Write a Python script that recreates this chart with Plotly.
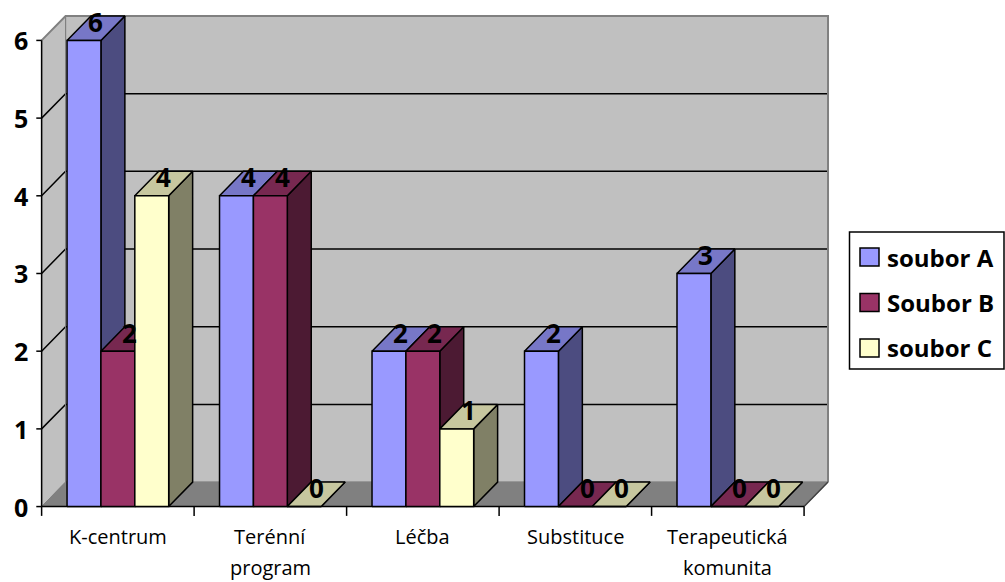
import plotly.graph_objects as go

# --- data -------------------------------------------------------------
categories = ["K-centrum", "Terénní program", "Léčba", "Substituce", "Terapeutická komunita"]
cat_line1 = ["K-centrum", "Terénní", "Léčba", "Substituce", "Terapeutická"]
cat_line2 = ["", "program", "", "", "komunita"]
series_names = ["soubor A", "Soubor B", "soubor C"]
soubor_a = [6, 4, 2, 2, 3]
soubor_b = [2, 4, 2, 0, 0]
soubor_c = [4, 0, 1, 0, 0]
y_ticks = [0, 1, 2, 3, 4, 5, 6]

series_values = [soubor_a, soubor_b, soubor_c]
front_colors = ["#9999FF", "#993366", "#FFFFCC"]

# --- geometry of the pseudo-3D box (axis units) ------------------------
W, H = 1005, 582
ML, MR, MT, MB = 34, 175, 14, 63
X_RANGE = [-0.05, 5.17]
Y_RANGE = [-0.16, 6.34]
DX, DY = 0.157, 0.315          # depth offset of walls and bars
BAR_W = 1 / 4.5                # three bars + gap width 150 %
BAR_OFF = 0.75 * BAR_W
N_CAT = len(categories)
Y_MAX = y_ticks[-1]

WALL = "#C0C0C0"
FLOOR = "#808080"
EDGE = "#808080"
FONT = "Open Sans"


def shade(hex_color, k):
    r, g, b = (int(hex_color[i:i + 2], 16) for i in (1, 3, 5))
    return "#%02X%02X%02X" % (round(r * k), round(g * k), round(b * k))


def poly(xs, ys, fill, line_color="black", width=1.5):
    return go.Scatter(
        x=list(xs) + [xs[0]], y=list(ys) + [ys[0]], mode="lines",
        fill="toself", fillcolor=fill,
        line=dict(color=line_color, width=width),
        hoverinfo="skip", showlegend=False,
    )


def seg(xs, ys, color="black", width=1.5):
    return go.Scatter(
        x=xs, y=ys, mode="lines", line=dict(color=color, width=width),
        hoverinfo="skip", showlegend=False,
    )


fig = go.Figure()

# walls and floor
fig.add_trace(poly([DX, N_CAT + DX, N_CAT + DX, DX],
                   [DY, DY, Y_MAX + DY, Y_MAX + DY], WALL, EDGE, 1))
fig.add_trace(poly([0, DX, DX, 0], [0, DY, Y_MAX + DY, Y_MAX], WALL, EDGE, 1))
fig.add_trace(poly([0, N_CAT, N_CAT + DX, DX], [0, 0, DY, DY], FLOOR, EDGE, 1))

# gridlines on side and back wall
for v in y_ticks[1:-1]:
    fig.add_trace(seg([0, DX, N_CAT + DX], [v, v + DY, v + DY]))

# wall edges
fig.add_trace(seg([0, DX, N_CAT + DX, N_CAT + DX],
                  [Y_MAX, Y_MAX + DY, Y_MAX + DY, DY], EDGE, 2))
fig.add_trace(seg([DX, DX], [DY, Y_MAX + DY], EDGE, 1))
fig.add_trace(seg([N_CAT, N_CAT + DX], [0, DY], "#404040", 1.5))

# axes and ticks
fig.add_trace(seg([0, 0], [0, Y_MAX], "black", 1.5))
fig.add_trace(seg([0, N_CAT], [0, 0], "black", 1.5))
for v in y_ticks:
    fig.add_trace(seg([-0.035, 0], [v, v], "black", 1.5))
for i in range(N_CAT + 1):
    fig.add_trace(seg([i, i], [0, -0.12], "black", 1.5))

# bars: side, top, front for each bar, left to right
annotations = []
for i in range(N_CAT):
    for s, vals in enumerate(series_values):
        v = vals[i]
        c = front_colors[s]
        x0 = i + BAR_OFF + s * BAR_W
        x1 = x0 + BAR_W
        fig.add_trace(poly([x1, x1 + DX, x1 + DX, x1], [0, DY, v + DY, v], shade(c, 0.5)))
        fig.add_trace(poly([x0, x1, x1 + DX, x0 + DX], [v, v, v + DY, v + DY], shade(c, 0.78)))
        fig.add_trace(poly([x0, x1, x1, x0], [0, 0, v, v], c))
        annotations.append(dict(
            x=(x0 + x1) / 2 + DX / 2, y=v + DY, yshift=-6,
            text=str(v), showarrow=False, xanchor="center", yanchor="middle",
            font=dict(family=FONT, size=26, color="black", weight="bold"),
        ))

# y tick labels
for v in y_ticks:
    annotations.append(dict(
        x=0, y=v, xshift=-12, text=str(v), showarrow=False,
        xanchor="right", yanchor="middle",
        font=dict(family=FONT, size=25, color="black", weight="bold"),
    ))

# category labels
for i in range(N_CAT):
    for text, shift in ((cat_line1[i], -30), (cat_line2[i], -61)):
        if text:
            annotations.append(dict(
                x=i + 0.5, y=0, yshift=shift, text=text, showarrow=False,
                xanchor="center", yanchor="middle",
                font=dict(family=FONT, size=20, color="black"),
            ))

# legend box drawn in paper coordinates
PW, PH = W - ML - MR, H - MT - MB


def px(x):
    return (x - ML) / PW


def py(y):
    return (H - MB - y) / PH


shapes = [dict(type="rect", xref="paper", yref="paper",
               x0=px(849.5), x1=px(1004), y0=py(369), y1=py(232),
               line=dict(color="black", width=1.5), fillcolor="white")]
for k, name in enumerate(series_names):
    cy = 257 + k * 45.5
    shapes.append(dict(type="rect", xref="paper", yref="paper",
                       x0=px(860), x1=px(879), y0=py(cy + 9), y1=py(cy - 9),
                       line=dict(color="black", width=1.5), fillcolor=front_colors[k]))
    annotations.append(dict(
        xref="paper", yref="paper", x=px(885), y=py(cy), text=name,
        showarrow=False, xanchor="left", yanchor="middle",
        font=dict(family=FONT, size=24, color="black", weight="bold"),
    ))

fig.update_layout(
    width=W, height=H,
    margin=dict(l=ML, r=MR, t=MT, b=MB),
    paper_bgcolor="white", plot_bgcolor="white",
    xaxis=dict(range=X_RANGE, visible=False, fixedrange=True),
    yaxis=dict(range=Y_RANGE, visible=False, fixedrange=True),
    showlegend=False,
    annotations=annotations,
    shapes=shapes,
)

fig.write_html("out.html")
